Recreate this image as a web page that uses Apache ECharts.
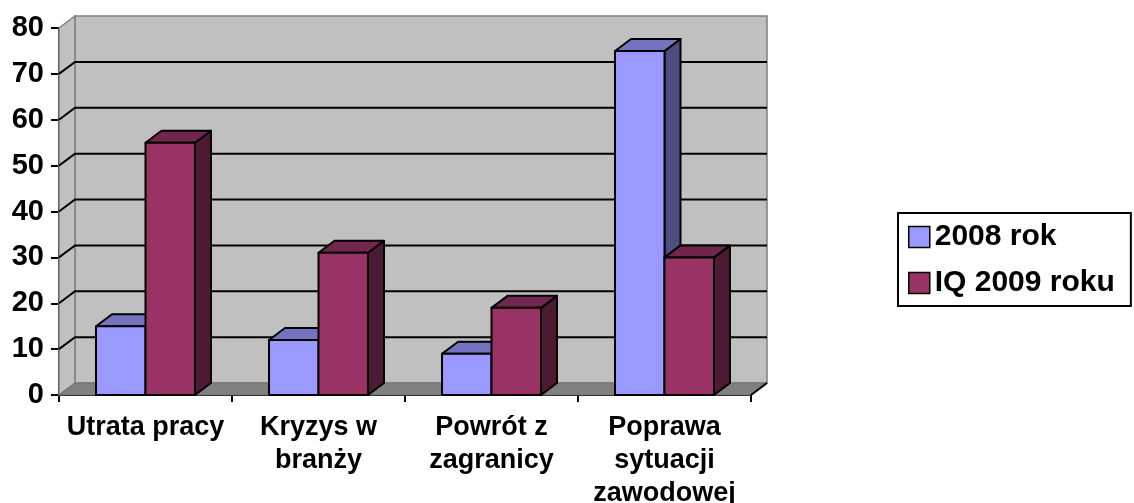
<!DOCTYPE html>
<html><head><meta charset="utf-8">
<script src="https://cdn.jsdelivr.net/npm/echarts@6/dist/echarts.min.js"></script>
<style>html,body{margin:0;padding:0;background:#fff}#c{width:1134px;height:503px}</style>
</head><body><div id="c"></div>
<script>
const categories = ['Utrata pracy', 'Kryzys w\nbranży', 'Powrót z\nzagranicy', 'Poprawa\nsytuacji\nzawodowej'];
const seriesNames = ['2008 rok', 'IQ 2009 roku'];
const values2008 = [15, 12, 9, 75];
const values2009 = [55, 31, 19, 30];
const yTicks = [0, 10, 20, 30, 40, 50, 60, 70, 80];

const FONT = "'Liberation Sans', Arial, sans-serif";
const DX = 16, DY = 12;
const palette = [
  { front: '#9999FF', top: '#7373C0', side: '#4D4D80' },
  { front: '#993366', top: '#73264D', side: '#4D1A33' }
];

function wallRenderer(params, api) {
  const cs = params.coordSys;
  const x0 = cs.x, x1 = cs.x + cs.width, yT = cs.y, yB = cs.y + cs.height;
  const children = [];
  children.push({ type: 'rect', shape: { x: x0 + DX, y: yT - DY, width: cs.width, height: cs.height },
    style: { fill: '#C0C0C0', stroke: '#808080', lineWidth: 1.5 } });
  children.push({ type: 'polygon', shape: { points: [[x0, yT], [x0 + DX, yT - DY], [x0 + DX, yB - DY], [x0, yB]] },
    style: { fill: '#C0C0C0', stroke: '#808080', lineWidth: 1.5 } });
  children.push({ type: 'polygon', shape: { points: [[x0, yB], [x0 + DX, yB - DY], [x1 + DX, yB - DY], [x1, yB]] },
    style: { fill: '#808080', stroke: '#707070', lineWidth: 1 } });
  yTicks.forEach(v => {
    if (v === yTicks[0] || v === yTicks[yTicks.length - 1]) return;
    const y = api.coord([0, v])[1];
    children.push({ type: 'polyline', shape: { points: [[x0, y], [x0 + DX, y - DY], [x1 + DX, y - DY]] },
      style: { stroke: '#000', lineWidth: 2, fill: null } });
  });
  children.push({ type: 'line', shape: { x1: x1, y1: yB, x2: x1 + DX, y2: yB - DY },
    style: { stroke: '#000', lineWidth: 2 } });
  return { type: 'group', children: children };
}

function barRenderer(sIdx) {
  return function (params, api) {
    const i = api.value(0), v = api.value(1);
    const base = api.coord([i, 0]);
    const top = api.coord([i, v]);
    const band = api.size([1, 0])[0];
    const w = band * 0.286;
    const x0 = base[0] - w + sIdx * w, x1 = x0 + w;
    const yb = base[1], yt = top[1];
    const c = palette[sIdx];
    const st = { stroke: '#000', lineWidth: 2, lineJoin: 'round' };
    return { type: 'group', children: [
      { type: 'polygon', shape: { points: [[x1, yt], [x1 + DX, yt - DY], [x1 + DX, yb - DY], [x1, yb]] },
        style: Object.assign({ fill: c.side }, st) },
      { type: 'polygon', shape: { points: [[x0, yt], [x1, yt], [x1 + DX, yt - DY], [x0 + DX, yt - DY]] },
        style: Object.assign({ fill: c.top }, st) },
      { type: 'rect', shape: { x: x0, y: yt, width: w, height: yb - yt },
        style: Object.assign({ fill: c.front }, st) }
    ] };
  };
}

const chart = echarts.init(document.getElementById('c'), null, { renderer: 'canvas' });
chart.setOption({
  animation: false,
  backgroundColor: '#fff',
  grid: { left: 59, right: 383, top: 28, bottom: 108, containLabel: false, outerBoundsMode: 'none' },
  legend: {
    orient: 'vertical', left: 898, top: 213,
    icon: 'rect', itemWidth: 21, itemHeight: 21, itemGap: 16,
    padding: [9, 16, 8, 10],
    borderColor: '#000', borderWidth: 2,
    textStyle: { fontFamily: FONT, fontWeight: 'bold', fontSize: 30, color: '#000', lineHeight: 30 },
    data: seriesNames.map((n, k) => ({ name: n, itemStyle: { color: palette[k].front, borderColor: '#000', borderWidth: 1.5 } }))
  },
  xAxis: {
    type: 'category', data: categories, boundaryGap: true,
    axisLine: { show: true, lineStyle: { color: '#000', width: 2 } },
    axisTick: { show: true, length: 7, interval: 0, lineStyle: { color: '#000', width: 2 } },
    axisLabel: { interval: 0, margin: 16, color: '#000', fontFamily: FONT, fontWeight: 'bold', fontSize: 27, lineHeight: 33 },
    splitLine: { show: false }
  },
  yAxis: {
    type: 'value', min: yTicks[0], max: yTicks[yTicks.length - 1], interval: 10,
    axisLine: { show: true, lineStyle: { color: '#000', width: 2 } },
    axisTick: { show: true, length: 8, lineStyle: { color: '#000', width: 2 } },
    axisLabel: { margin: 15, color: '#000', fontFamily: FONT, fontWeight: 'bold', fontSize: 29, padding: [4, 0, 0, 0] },
    splitLine: { show: false }
  },
  series: [
    { type: 'custom', name: 'walls', silent: true, z: 1, renderItem: wallRenderer, data: [[0, 0]], encode: { x: 0, y: 1 } },
    { type: 'custom', name: seriesNames[0], z: 2, renderItem: barRenderer(0), itemStyle: { color: palette[0].front },
      data: values2008.map((v, i) => [i, v]), encode: { x: 0, y: 1 } },
    { type: 'custom', name: seriesNames[1], z: 3, renderItem: barRenderer(1), itemStyle: { color: palette[1].front },
      data: values2009.map((v, i) => [i, v]), encode: { x: 0, y: 1 } }
  ]
});
</script>
</body></html>
